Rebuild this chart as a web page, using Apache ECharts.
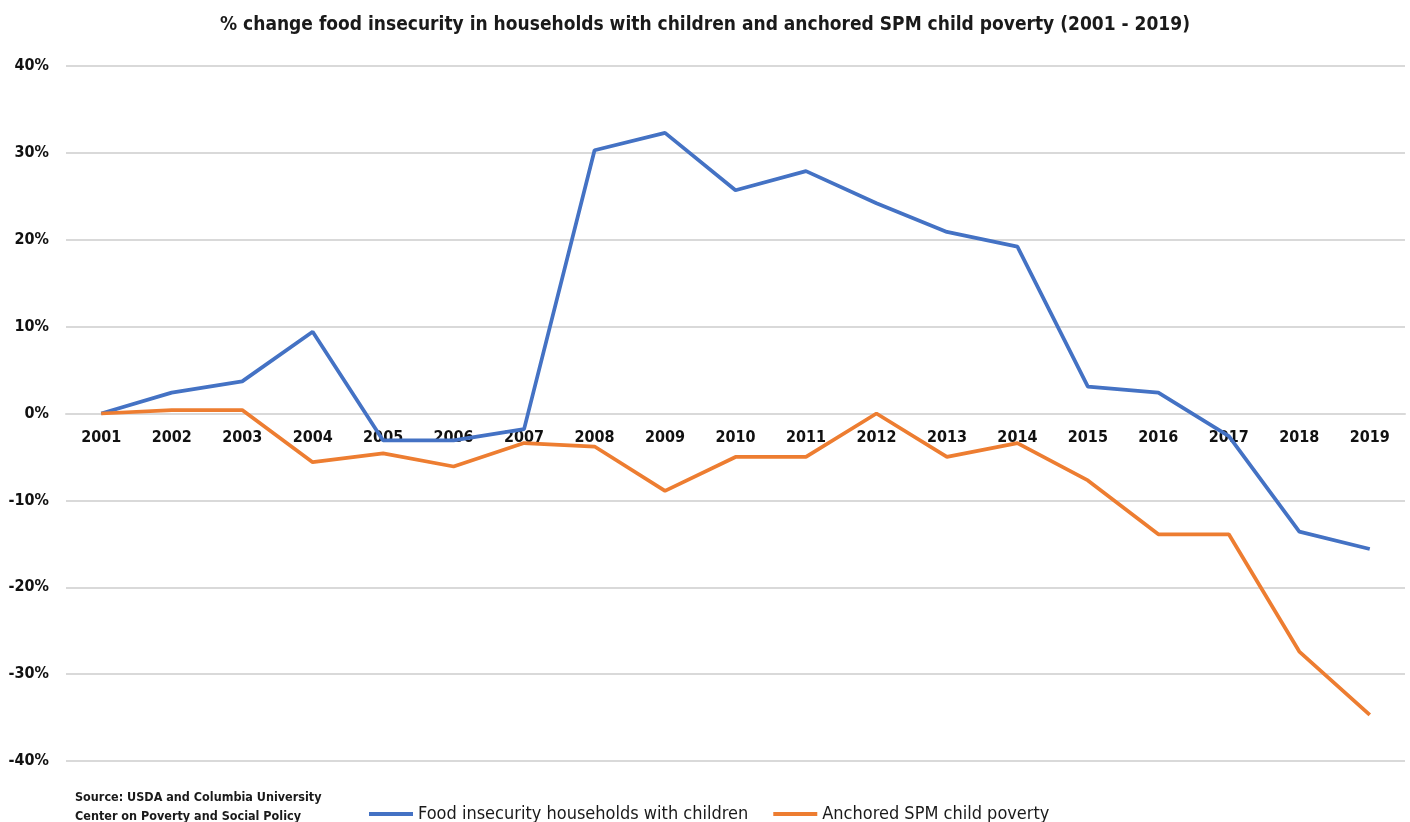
<!DOCTYPE html>
<html>
<head>
<meta charset="utf-8">
<script src="https://cdn.jsdelivr.net/npm/echarts@6/dist/echarts.min.js"></script>
<style>
html,body{margin:0;padding:0;background:#fff;}
#chart{width:1410px;height:822px;}
</style>
</head>
<body>
<div id="chart"></div>
<script>
const years = ['2001','2002','2003','2004','2005','2006','2007','2008','2009','2010','2011','2012','2013','2014','2015','2016','2017','2018','2019'];
const foodInsecurity = [0, 2.4, 3.7, 9.4, -3.1, -3.1, -1.8, 30.3, 32.3, 25.7, 27.9, 24.2, 20.9, 19.2, 3.1, 2.4, -2.6, -13.6, -15.6];
const spmChildPoverty = [0, 0.4, 0.4, -5.6, -4.6, -6.1, -3.4, -3.8, -8.9, -5.0, -5.0, 0, -5.0, -3.4, -7.7, -13.9, -13.9, -27.4, -34.7];
const seriesNames = ['Food insecurity households with children', 'Anchored SPM child poverty'];
const titleText = '% change food insecurity in households with children and anchored SPM child poverty (2001 - 2019)';
const sourceText = 'Source: USDA and Columbia University\nCenter on Poverty and Social Policy';

const FONT = '"Liberation Sans Narrow", "DejaVu Sans Condensed", "Roboto", sans-serif';
const GRID_TOP = 66, GRID_BOTTOM = 61, H = 822;
const plotH = H - GRID_TOP - GRID_BOTTOM;

const chart = echarts.init(document.getElementById('chart'));
chart.setOption({
  backgroundColor: '#ffffff',
  animation: false,
  title: {
    text: titleText,
    left: 'center',
    top: 11,
    textStyle: { fontFamily: FONT, fontSize: 19, fontWeight: 'bold', color: '#1a1a1a' }
  },
  grid: { left: 66, right: 5, top: GRID_TOP, bottom: GRID_BOTTOM, containLabel: false },
  legend: {
    data: [
      { name: seriesNames[0], icon: 'rect' },
      { name: seriesNames[1], icon: 'rect' }
    ],
    left: 364,
    top: 800,
    itemWidth: 44,
    itemHeight: 4,
    itemGap: 25,
    textStyle: { fontFamily: FONT, fontSize: 18, color: '#1a1a1a' }
  },
  graphic: [{
    type: 'text',
    left: 75,
    top: 788,
    style: { text: sourceText, fontFamily: FONT, fontSize: 12.5, lineHeight: 19, fill: '#1a1a1a', fontWeight: 'bold' }
  }],
  xAxis: {
    type: 'category',
    data: years,
    boundaryGap: true,
    offset: -plotH / 2,
    axisLine: { show: true, onZero: false, lineStyle: { color: '#d9d9d9', width: 2 } },
    axisTick: { show: false },
    axisLabel: { margin: 16, fontFamily: FONT, fontSize: 16, fontWeight: 'bold', color: '#111' }
  },
  yAxis: {
    type: 'value',
    min: -40,
    max: 40,
    interval: 10,
    axisLine: { show: false },
    axisTick: { show: false },
    axisLabel: { margin: 17, formatter: '{value}%', fontFamily: FONT, fontSize: 16, fontWeight: 'bold', color: '#111' },
    splitLine: { lineStyle: { color: '#d9d9d9', width: 2 } }
  },
  series: [
    {
      name: seriesNames[0], type: 'line', data: foodInsecurity,
      symbol: 'none', color: '#4472C4',
      lineStyle: { width: 3.75, color: '#4472C4' }
    },
    {
      name: seriesNames[1], type: 'line', data: spmChildPoverty,
      symbol: 'none', color: '#ED7D31',
      lineStyle: { width: 3.75, color: '#ED7D31' }
    }
  ]
});
</script>
</body>
</html>
